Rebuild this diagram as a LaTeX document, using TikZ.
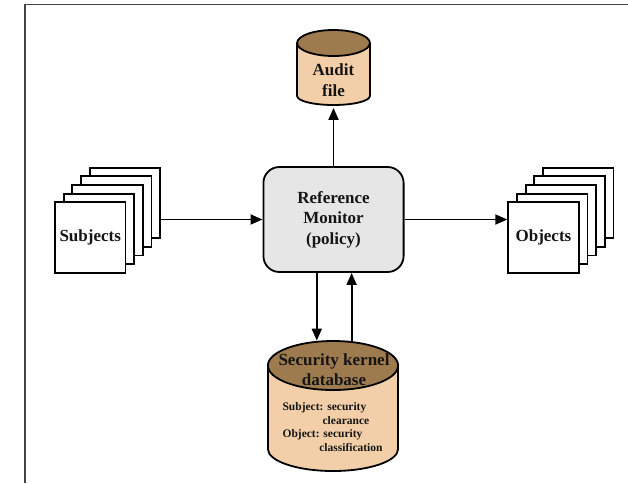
\documentclass[tikz,border=0pt]{standalone}
\usepackage{fontspec}
\setmainfont{Liberation Serif}
\usetikzlibrary{arrows.meta}
\definecolor{rmgray}{HTML}{E6E6E6}
\definecolor{dbtop}{HTML}{9E7B4F}
\definecolor{dbbody}{HTML}{F2CFA8}
\definecolor{ink}{HTML}{151515}
\definecolor{framecol}{HTML}{444444}
\begin{document}
\begin{tikzpicture}[x=1pt,y=-1pt,line width=1.8pt,
  page/.style={draw=black,fill=white,minimum width=70.5pt,minimum height=70.4pt,inner sep=0pt,
    font=\fontsize{17}{20}\selectfont\bfseries,text=ink},
  lbl/.style={inner sep=0pt,align=center,font=\fontsize{17}{20.5}\selectfont\bfseries,text=ink},
  small/.style={inner sep=0pt,align=left,font=\fontsize{11.5}{13.8}\selectfont\bfseries,text=ink},
  holder/.style={inner sep=0pt,draw=none},
  arr/.style={draw=black,-{Triangle[length=12pt,width=10pt]}}]
\useasboundingbox (0,0) rectangle (628,483);
% frame
\draw[line width=1.4pt,framecol] (24.8,483) -- (24.8,4.7) -- (628,4.7);

% ---- Audit file cylinder ----
\fill[dbbody] (333.5,96) ellipse[x radius=36.4,y radius=9];
\fill[dbbody] (297.1,43) rectangle (369.9,96);
\fill[dbtop] (333.5,43) ellipse[x radius=36.4,y radius=13];
\draw (333.5,43) ellipse[x radius=36.4,y radius=13];
\draw (297.1,43) -- (297.1,96);
\draw (369.9,43) -- (369.9,96);
\begin{scope}
\clip (294,96) rectangle (373,108);
\draw (333.5,96) ellipse[x radius=36.4,y radius=9];
\end{scope}
\node[holder,minimum width=72.8pt,minimum height=75pt] (audit) at (333.5,67.5) {};
\node[lbl] (audittxt) at (333.5,80) {Audit\\file};

% ---- Security kernel database cylinder ----
\fill[dbbody] (333,449) ellipse[x radius=65.1,y radius=22];
\fill[dbbody] (267.9,365.5) rectangle (398.1,449);
\fill[dbtop] (333,365.5) ellipse[x radius=65.1,y radius=24.5];
\draw (333,365.5) ellipse[x radius=65.1,y radius=24.5];
\draw (267.9,365.5) -- (267.9,449);
\draw (398.1,365.5) -- (398.1,449);
\begin{scope}
\clip (264,449) rectangle (402,476);
\draw (333,449) ellipse[x radius=65.1,y radius=22];
\end{scope}
\node[holder,minimum width=130.2pt,minimum height=130pt] (skdb) at (333,406) {};
\node[lbl,font=\fontsize{17}{20}\selectfont\bfseries] (sktxt) at (334,370) {Security kernel\\database};
\node[small,anchor=north west] (skinfo) at (281.7,401.5) {Subject: security\\\hspace*{40pt}clearance\\Object: security\\\hspace*{36.7pt}classification};

% ---- Reference monitor ----
\node[draw=black,fill=rmgray,rounded corners=16pt,minimum width=140.2pt,minimum height=105pt,
  lbl] (rm) at (333.5,219.5) {Reference\\Monitor\\(policy)};

% ---- Subjects stack ----
\node[page] (s4) at (125.0,202.9) {};
\node[page] (s3) at (116.3,211.55) {};
\node[page] (s2) at (107.6,220.2) {};
\node[page] (s1) at (98.9,228.85) {};
\node[page] (s0) at (90.2,237.5) {Subjects};

% ---- Objects stack ----
\node[page] (o4) at (578.25,202.9) {};
\node[page] (o3) at (569.55,211.55) {};
\node[page] (o2) at (560.85,220.2) {};
\node[page] (o1) at (552.15,228.85) {};
\node[page] (o0) at (543.45,237.5) {Objects};

% ---- connectors ----
\draw[arr] (rm.west -| s4.east) -- (rm.west);
\draw[arr] (rm.east) -- (rm.east -| o0.west);
\draw[arr,shorten >=2pt] (rm.north) -- (audit.south);
\draw[arr] ([xshift=-16.7pt]rm.south) -- ([xshift=-16.2pt,yshift=-0.5pt]skdb.north);
\draw[arr] ([xshift=18.6pt,yshift=-1pt]skdb.north) -- ([xshift=18.1pt]rm.south);
\end{tikzpicture}
\end{document}
